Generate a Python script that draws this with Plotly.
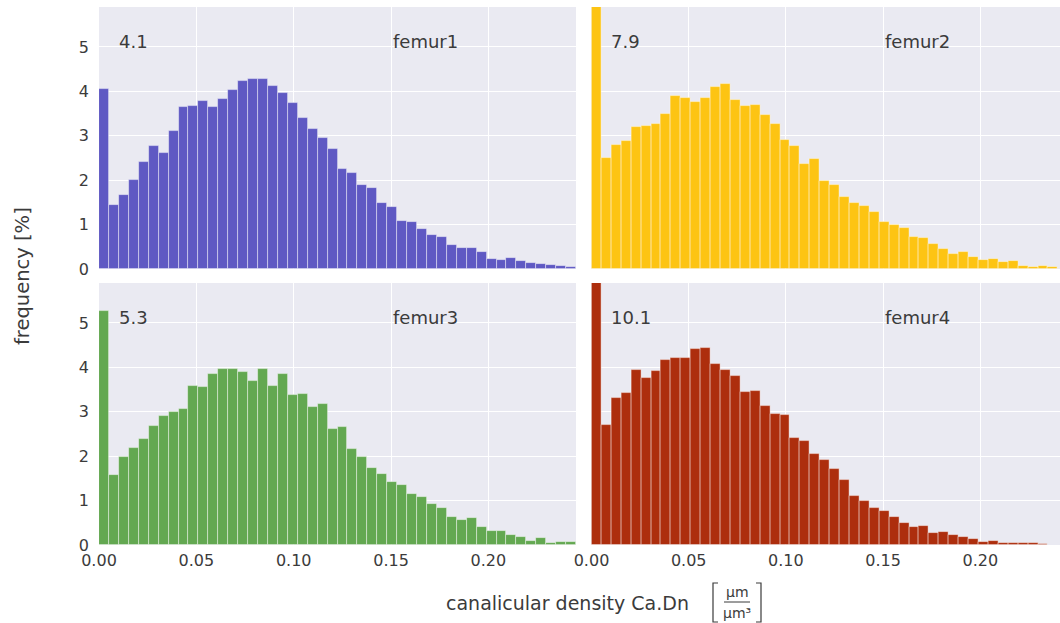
import numpy as np
import plotly.graph_objects as go

# ---------------- data (percent frequency per bin) ----------------
names = ["femur1", "femur2", "femur3", "femur4"]
colors = ["#5F59C3", "#FDC413", "#63A851", "#AD2E0D"]

femur1 = [4.06, 1.45, 1.66, 2.01, 2.40, 2.76, 2.62, 3.10, 3.65, 3.68,
          3.79, 3.65, 3.83, 4.02, 4.24, 4.27, 4.27, 4.12, 3.97, 3.73,
          3.39, 3.16, 2.95, 2.71, 2.26, 2.16, 1.90, 1.82, 1.48, 1.39,
          1.09, 1.06, 0.89, 0.76, 0.71, 0.55, 0.47, 0.47, 0.38, 0.23,
          0.21, 0.24, 0.18, 0.135, 0.12, 0.10, 0.06, 0.035]
femur2 = [7.9, 2.49, 2.80, 2.88, 3.20, 3.23, 3.27, 3.48, 3.89, 3.86,
          3.75, 3.86, 4.10, 4.17, 3.81, 3.66, 3.69, 3.47, 3.26, 2.91,
          2.77, 2.37, 2.47, 1.98, 1.90, 1.62, 1.48, 1.42, 1.29, 1.05,
          0.98, 0.92, 0.71, 0.70, 0.56, 0.45, 0.34, 0.38, 0.27, 0.20,
          0.22, 0.16, 0.17, 0.07, 0.035, 0.07, 0.05]
femur3 = [5.27, 1.58, 1.98, 2.18, 2.39, 2.69, 2.90, 3.00, 3.07, 3.58,
          3.55, 3.84, 3.96, 3.96, 3.89, 3.69, 3.96, 3.57, 3.84, 3.38,
          3.39, 3.10, 3.17, 2.62, 2.65, 2.17, 1.98, 1.74, 1.61, 1.41,
          1.34, 1.14, 1.08, 0.93, 0.83, 0.63, 0.57, 0.60, 0.41, 0.32,
          0.31, 0.23, 0.19, 0.10, 0.165, 0.04, 0.075, 0.06]
femur4 = [10.1, 2.70, 3.31, 3.42, 3.94, 3.76, 3.91, 4.17, 4.22, 4.20,
          4.41, 4.43, 4.08, 3.95, 3.80, 3.45, 3.47, 3.14, 2.95, 2.92,
          2.40, 2.34, 2.06, 1.92, 1.72, 1.47, 1.11, 0.98, 0.83, 0.76,
          0.64, 0.49, 0.40, 0.43, 0.28, 0.29, 0.23, 0.19, 0.14, 0.075,
          0.10, 0.05, 0.05, 0.05, 0.05, 0.02]
series = [femur1, femur2, femur3, femur4]
first_bin_labels = ["4.1", "7.9", "5.3", "10.1"]

bin_width = 0.245 / 48
x_ticks = [0.00, 0.05, 0.10, 0.15, 0.20]
y_ticks = [0, 1, 2, 3, 4, 5]

# ---------------- figure ----------------
W, H = 1060, 623
ml, mr, mt, mb = 99, 0, 7, 78
pw, ph = W - ml - mr, H - mt - mb

def px_x(p):
    return (p - ml) / pw

def px_y(p):
    return (H - mb - p) / ph

fig = go.Figure()
axes = [("x", "y"), ("x2", "y2"), ("x3", "y3"), ("x4", "y4")]
for vals, col, (xa, ya) in zip(series, colors, axes):
    centers = (np.arange(len(vals)) + 0.5) * bin_width
    fig.add_trace(go.Bar(
        x=centers, y=vals, width=bin_width,
        marker=dict(color=col, line=dict(color="rgba(255,255,255,0.55)", width=0.8)),
        xaxis=xa, yaxis=ya, showlegend=False,
    ))

text_col = "#3b3b3b"
font_fam = "DejaVu Sans, sans-serif"
grid = dict(showgrid=True, gridcolor="white", gridwidth=1.3, zeroline=False,
            showline=False, ticks="", tickfont=dict(size=16, color=text_col, family=font_fam))

xdom_l = [0, px_x(576)]
xdom_r = [px_x(591.5), 1]
ydom_t = [px_y(269), 1]
ydom_b = [0, px_y(283)]
xr_l = [0, 0.245]
xr_r = [0, 0.241]
yr = [0, 5.9]

lay = dict(
    xaxis=dict(domain=xdom_l, range=xr_l, anchor="y", tickvals=x_ticks, showticklabels=False, **grid),
    yaxis=dict(domain=ydom_t, range=yr, anchor="x", tickvals=y_ticks, **grid),
    xaxis2=dict(domain=xdom_r, range=xr_r, anchor="y2", tickvals=x_ticks, showticklabels=False, **grid),
    yaxis2=dict(domain=ydom_t, range=yr, anchor="x2", tickvals=y_ticks, showticklabels=False, **grid),
    xaxis3=dict(domain=xdom_l, range=xr_l, anchor="y3", tickvals=x_ticks, tickformat=".2f", **grid),
    yaxis3=dict(domain=ydom_b, range=yr, anchor="x3", tickvals=y_ticks, **grid),
    xaxis4=dict(domain=xdom_r, range=xr_r, anchor="y4", tickvals=x_ticks, tickformat=".2f", **grid),
    yaxis4=dict(domain=ydom_b, range=yr, anchor="x4", tickvals=y_ticks, showticklabels=False, **grid),
)
fig.update_layout(**lay)
for k in ["yaxis", "yaxis3"]:
    fig.layout[k].ticklabelstandoff = 9
for k in ["xaxis3", "xaxis4"]:
    fig.layout[k].ticklabelstandoff = 4

annotations = []
for (xa, ya), name, lab in zip(axes, names, first_bin_labels):
    annotations.append(dict(x=0.009, y=5.12, xref=xa, yref=ya, text=lab, showarrow=False,
                            xanchor="left", yanchor="middle",
                            font=dict(size=18, color=text_col, family=font_fam)))
    annotations.append(dict(x=0.15, y=5.12, xref=xa, yref=ya, text=name, showarrow=False,
                            xanchor="left", yanchor="middle",
                            font=dict(size=18, color=text_col, family=font_fam)))

# y title
annotations.append(dict(x=px_x(22), y=px_y(276), xref="paper", yref="paper", text="frequency [%]",
                        textangle=-90, showarrow=False, xanchor="center", yanchor="middle",
                        font=dict(size=19.5, color=text_col, family=font_fam)))
# x title
annotations.append(dict(x=px_x(691), y=px_y(603), xref="paper", yref="paper",
                        text="canalicular density Ca.Dn", showarrow=False,
                        xanchor="right", yanchor="middle",
                        font=dict(size=19, color=text_col, family=font_fam)))
annotations.append(dict(x=px_x(737), y=px_y(592), xref="paper", yref="paper", text="μm",
                        showarrow=False, xanchor="center", yanchor="middle",
                        font=dict(size=14, color=text_col, family=font_fam)))
annotations.append(dict(x=px_x(737), y=px_y(613), xref="paper", yref="paper", text="μm³",
                        showarrow=False, xanchor="center", yanchor="middle",
                        font=dict(size=14, color=text_col, family=font_fam)))

shapes = [
    dict(type="line", xref="paper", yref="paper", x0=px_x(724), x1=px_x(750),
         y0=px_y(602), y1=px_y(602), line=dict(color=text_col, width=1)),
    dict(type="path", xref="paper", yref="paper",
         path=f"M {px_x(718)},{px_y(583)} L {px_x(713)},{px_y(583)} L {px_x(713)},{px_y(622)} L {px_x(718)},{px_y(622)}",
         line=dict(color=text_col, width=1.2)),
    dict(type="path", xref="paper", yref="paper",
         path=f"M {px_x(756)},{px_y(583)} L {px_x(761)},{px_y(583)} L {px_x(761)},{px_y(622)} L {px_x(756)},{px_y(622)}",
         line=dict(color=text_col, width=1.2)),
]

fig.update_layout(
    width=W, height=H,
    margin=dict(l=ml, r=mr, t=mt, b=mb),
    paper_bgcolor="white", plot_bgcolor="#EAEAF2",
    bargap=0, barmode="overlay",
    annotations=annotations, shapes=shapes,
    font=dict(family=font_fam, color=text_col),
)

fig.write_html("out.html", config={"displayModeBar": False},
               post_script="document.body.style.margin='0px';document.body.style.overflow='hidden';")
